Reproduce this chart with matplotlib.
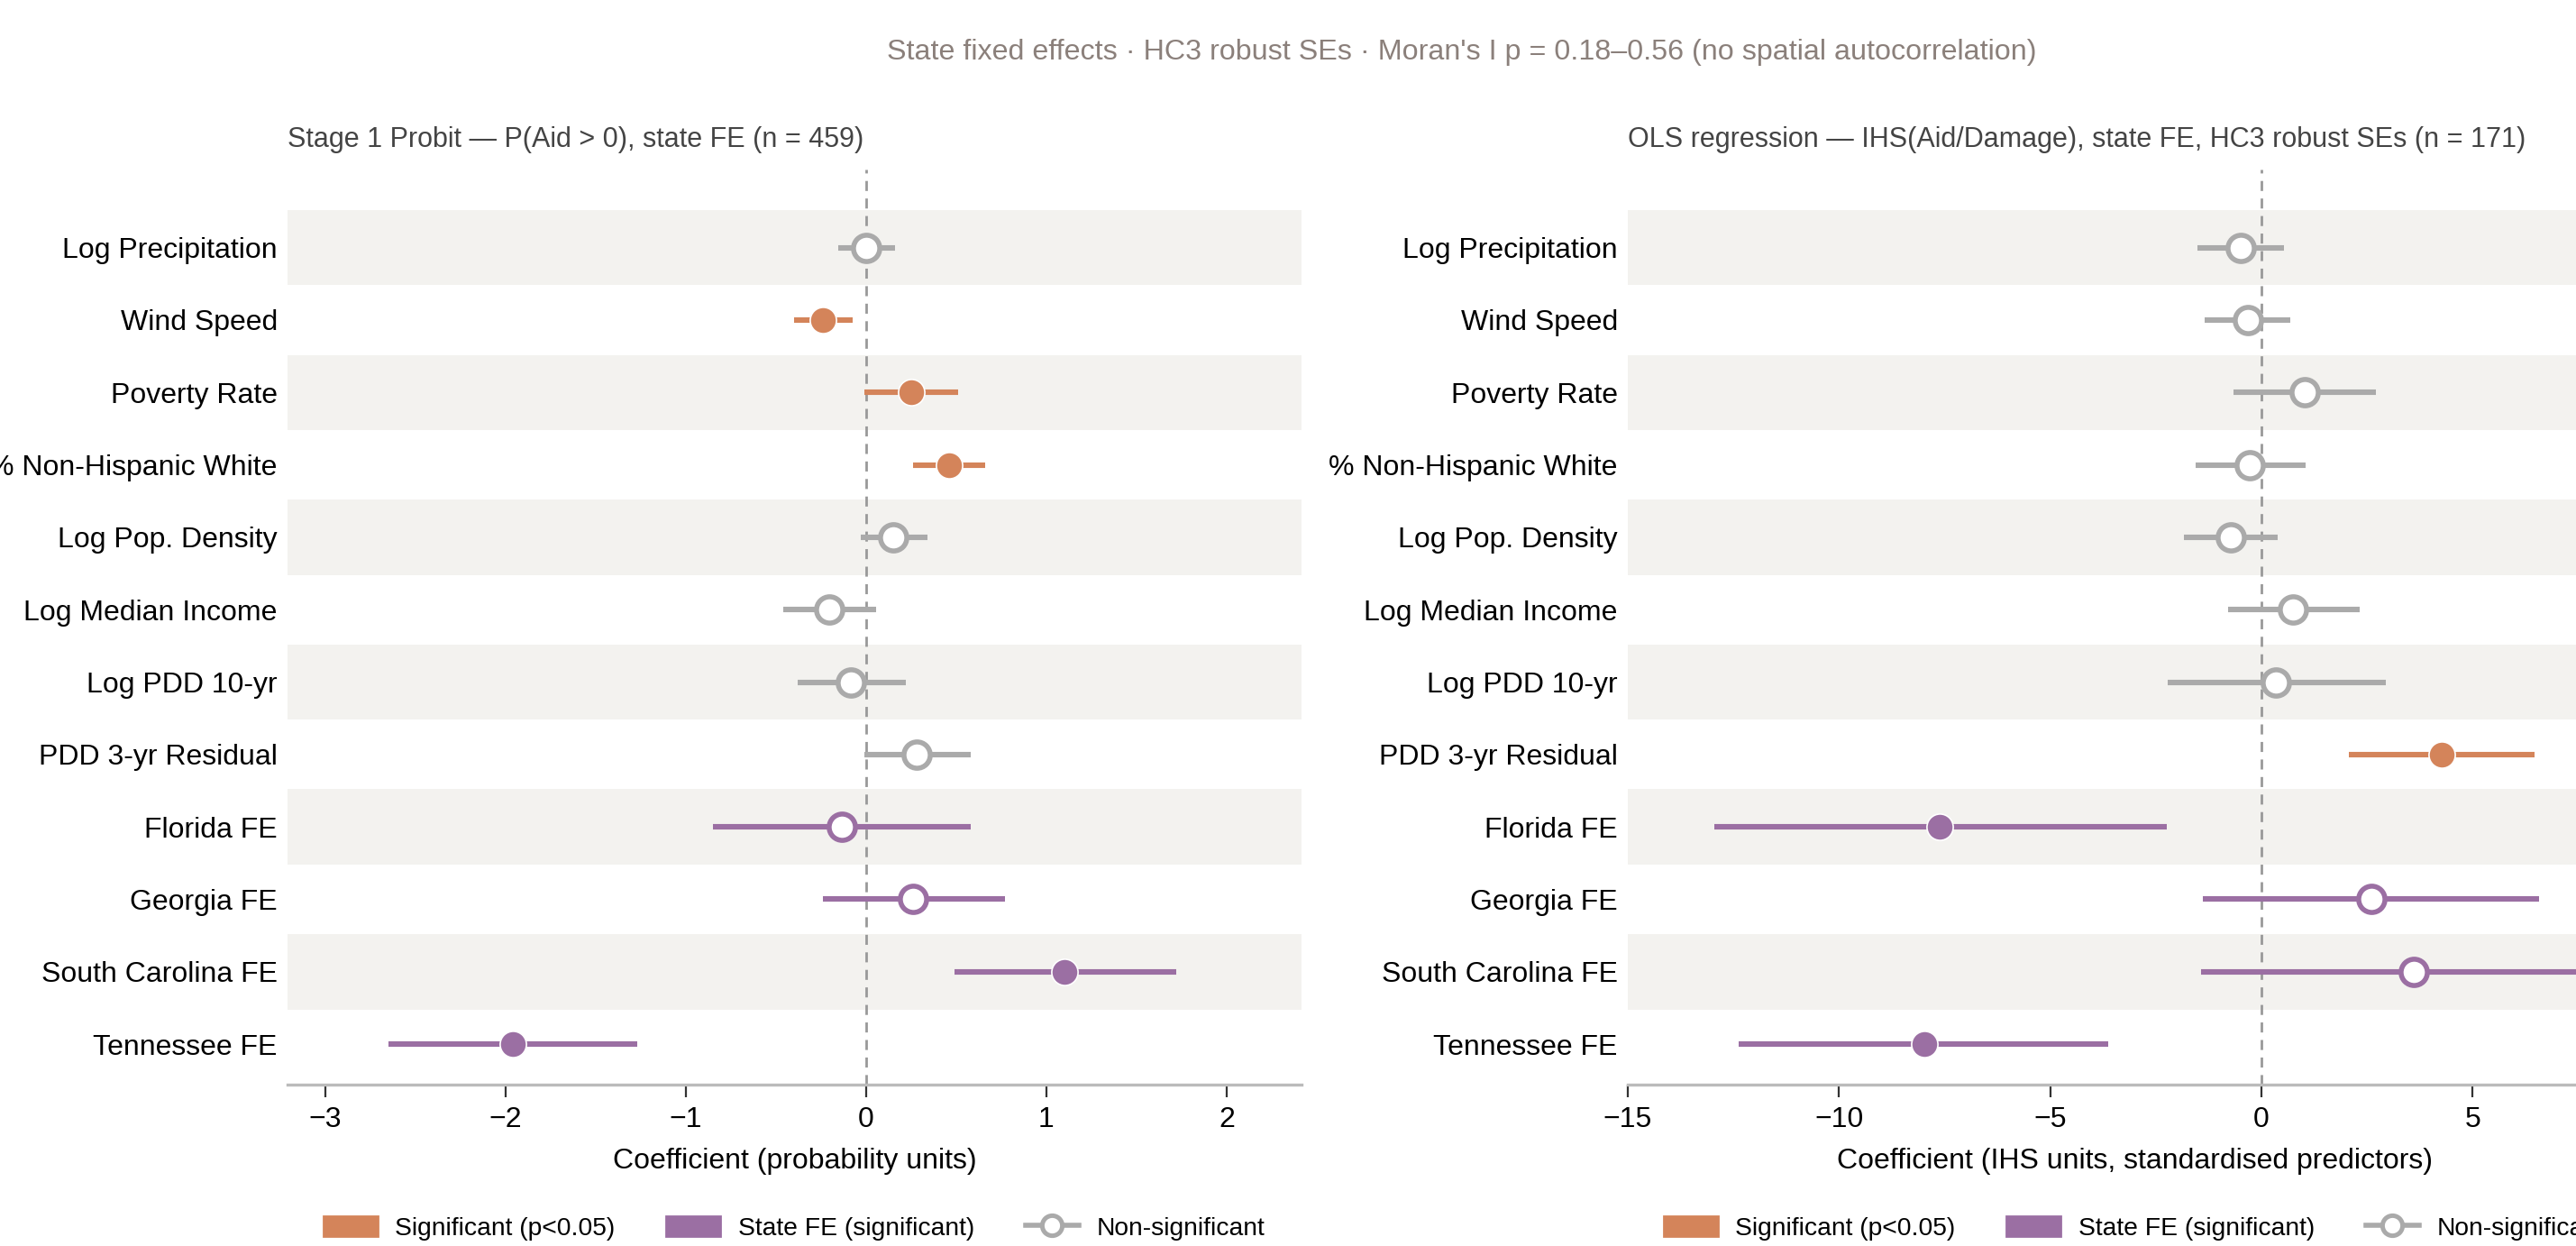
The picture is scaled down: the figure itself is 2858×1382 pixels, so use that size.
import numpy as np
import matplotlib
matplotlib.use("Agg")
import matplotlib.pyplot as plt
from matplotlib.patches import Patch
from matplotlib.lines import Line2D

plt.rcParams["font.family"] = ["Liberation Sans", "DejaVu Sans"]

# ── Data ──────────────────────────────────────────────────────────────────────
labels = [
    "Log Precipitation", "Wind Speed", "Poverty Rate", "% Non-Hispanic White",
    "Log Pop. Density", "Log Median Income", "Log PDD 10-yr",
    "PDD 3-yr Residual", "Florida FE", "Georgia FE", "South Carolina FE",
    "Tennessee FE",
]
is_fe = [False] * 8 + [True] * 4

probit_coef = [0.00, -0.24, 0.25, 0.46, 0.15, -0.205, -0.085, 0.28, -0.135, 0.26, 1.10, -1.96]
probit_lo = [-0.155, -0.40, -0.01, 0.26, -0.03, -0.46, -0.38, -0.01, -0.85, -0.24, 0.49, -2.65]
probit_hi = [0.16, -0.075, 0.51, 0.66, 0.34, 0.055, 0.22, 0.58, 0.58, 0.77, 1.72, -1.27]
probit_sig = [False, True, True, True, False, False, False, False, False, False, True, True]

ols_coef = [-0.50, -0.33, 1.03, -0.27, -0.73, 0.74, 0.34, 4.26, -7.61, 2.60, 3.61, -7.99]
ols_lo = [-1.51, -1.34, -0.67, -1.55, -1.84, -0.79, -2.22, 2.06, -12.96, -1.38, -1.43, -12.38]
ols_hi = [0.53, 0.69, 2.71, 1.05, 0.38, 2.33, 2.94, 6.46, -2.24, 6.57, 8.65, -3.63]
ols_sig = [False, False, False, False, False, False, False, True, True, False, False, True]

COL_SIG = "#d4845a"
COL_FE = "#9b6fa3"
COL_NS = "#aaaaaa"
BAND = "#f3f2ef"


def draw_panel(ax, coef, lo, hi, sigs, title, xlabel, xlim, xticks):
    n = len(labels)
    ys = np.arange(n)[::-1]
    for i, y in enumerate(ys):
        if i % 2 == 0:
            ax.axhspan(y - 0.52, y + 0.52, color=BAND, lw=0, zorder=0)
    ax.axvline(0, color="#999999", ls=(0, (4, 3)), lw=1.0, zorder=1)

    for i, y in enumerate(ys):
        sig = sigs[i]
        if is_fe[i]:
            col = COL_FE
        else:
            col = COL_SIG if sig else COL_NS
        ax.plot([lo[i], hi[i]], [y, y], color=col, lw=2.2,
                solid_capstyle="butt", zorder=2)
        ax.plot(coef[i], y, "o", ms=10.5,
                markerfacecolor=col if sig else "white",
                markeredgecolor=col if not sig else "white",
                markeredgewidth=2.0 if not sig else 0.6, zorder=3)

    ax.set_yticks(ys)
    ax.set_yticklabels(labels, fontsize=11.5)
    ax.tick_params(axis="y", length=0, pad=4)
    ax.tick_params(axis="x", labelsize=11.5, length=5, color="#333333")
    ax.set_xticks(xticks)
    ax.set_xlim(*xlim)
    ax.set_ylim(-0.56, n - 1 + 1.08)
    for s in ["top", "right", "left"]:
        ax.spines[s].set_visible(False)
    ax.spines["bottom"].set_color("#bbbbbb")
    ax.spines["bottom"].set_linewidth(1.2)
    ax.set_xlabel(xlabel, fontsize=11.5, labelpad=6)
    ax.set_title(title, loc="left", fontsize=11, color="#444444", pad=9)

    handles = [
        Patch(color=COL_SIG, label="Significant (p<0.05)"),
        Patch(color=COL_FE, label="State FE (significant)"),
        Line2D([0], [0], color=COL_NS, lw=2, marker="o", ms=8,
               markerfacecolor="white", markeredgecolor=COL_NS,
               markeredgewidth=1.8, label="Non-significant"),
    ]
    ax.legend(handles=handles, loc="center", bbox_to_anchor=(0.5, -0.157),
              ncol=3, frameon=False, fontsize=10.2, handlelength=2.1,
              handleheight=0.85, handletextpad=0.7, columnspacing=2.0)


fig = plt.figure(figsize=(14.29, 6.91), dpi=200)
ax1 = fig.add_axes([0.1116, 0.1295, 0.3936, 0.7345])
ax2 = fig.add_axes([0.6319, 0.1295, 0.3936, 0.7345])

draw_panel(ax1, probit_coef, probit_lo, probit_hi, probit_sig,
           "Stage 1 Probit — P(Aid > 0), state FE (n = 459)",
           "Coefficient (probability units)", (-3.21, 2.415), [-3, -2, -1, 0, 1, 2])
draw_panel(ax2, ols_coef, ols_lo, ols_hi, ols_sig,
           "OLS regression — IHS(Aid/Damage), state FE, HC3 robust SEs (n = 171)",
           "Coefficient (IHS units, standardised predictors)", (-15, 9.0),
           [-15, -10, -5, 0, 5])

fig.text(0.5675, 0.958,
         "State fixed effects · HC3 robust SEs · Moran's I p = 0.18–0.56 "
         "(no spatial autocorrelation)",
         ha="center", va="center", fontsize=11.6, color="#8b807b")

fig.savefig("out.png", dpi=200)
